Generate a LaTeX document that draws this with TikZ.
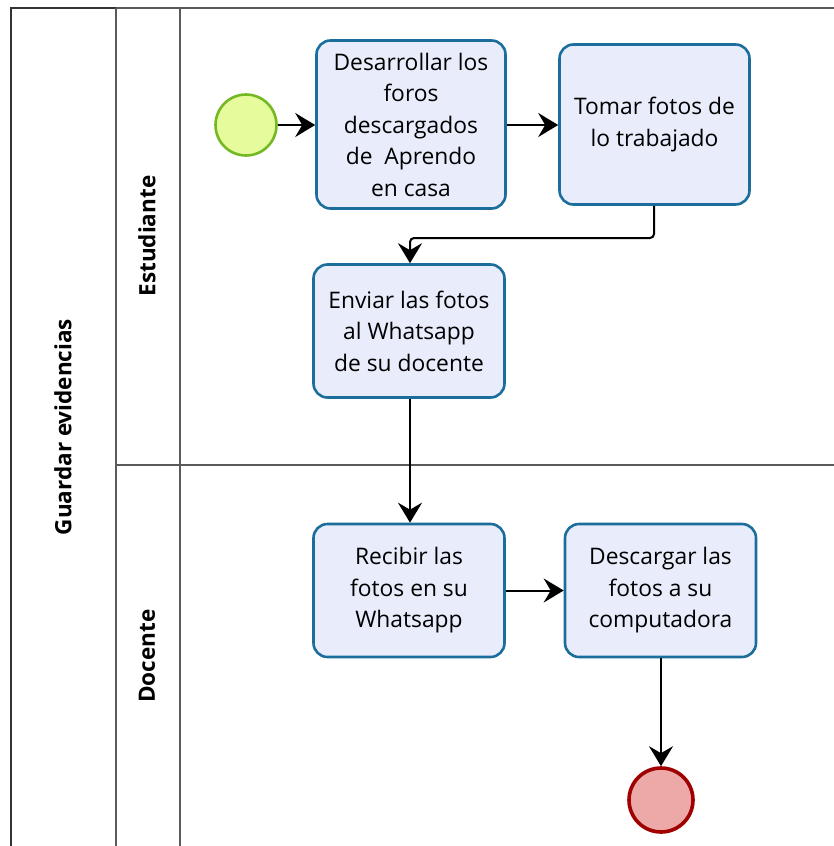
\documentclass[tikz,border=0pt]{standalone}
\usepackage{fontspec}
\setmainfont{Open Sans}
\usetikzlibrary{arrows.meta}
\definecolor{taskfill}{HTML}{E9EDFB}
\definecolor{taskdraw}{HTML}{1B6E9B}
\definecolor{startfill}{HTML}{E6FB9B}
\definecolor{startdraw}{HTML}{74B824}
\definecolor{endfill}{HTML}{EDA8A8}
\definecolor{enddraw}{HTML}{A00000}
\definecolor{poolline}{HTML}{5A5A5A}
\begin{document}
\begin{tikzpicture}[x=1pt,y=-1pt,
  task/.style={draw=taskdraw,fill=taskfill,line width=2.6pt,rounded corners=14pt,
    align=center,font=\fontsize{22.8}{31.5}\selectfont,inner sep=0pt},
  flow/.style={draw=black,line width=2pt,-{Stealth[length=20pt,width=24pt,inset=7pt]}},
  lanelbl/.style={rotate=90,font=\fontsize{22.5}{26}\selectfont\bfseries},
  pool/.style={draw=poolline,line width=1.6pt}]
\useasboundingbox (0,0) rectangle (834,846);
% pool and lanes
\draw[draw=black!80,line width=2.4pt] (11,846) -- (11,8) -- (116,8);
\draw[pool] (116,8) -- (834,8);
\draw[pool] (116,8) -- (116,846);
\draw[pool] (180,8) -- (180,846);
\draw[pool] (116,465) -- (834,465);
\node[lanelbl] (pl) at (63,427) {Guardar evidencias};
\node[lanelbl] (l1) at (147,236) {Estudiante};
\node[lanelbl] (l2) at (147,656) {Docente};
% events
\node[circle,draw=startdraw,fill=startfill,line width=2.6pt,minimum size=61pt,inner sep=0pt] (start) at (246,125) {};
\node[circle,draw=enddraw,fill=endfill,line width=3.6pt,minimum size=64pt,inner sep=0pt] (end) at (661,800) {};
% tasks
\node[task,minimum width=189pt,minimum height=168pt] (t1) at (411,124.5) {Desarrollar los\\foros\\descargados\\de\ \ Aprendo\\en casa};
\node[task,minimum width=190pt,minimum height=160pt] (t2) at (654.5,124.5) {Tomar fotos de\\lo trabajado};
\node[task,minimum width=191pt,minimum height=133pt] (t3) at (409,331) {Enviar las fotos\\al Whatsapp\\de su docente};
\node[task,minimum width=191pt,minimum height=133pt] (t4) at (409,590.5) {Recibir las\\fotos en su\\Whatsapp};
\node[task,minimum width=191pt,minimum height=133pt] (t5) at (660.5,590.5) {Descargar las\\fotos a su\\computadora};
% flows
\coordinate (c1) at (654,238);
\coordinate (c2) at (410,238);
\draw[flow] (start) -- (t1.west |- start);
\draw[flow] (t1.east |- start) -- (t2.west |- start);
\draw[flow,rounded corners=4pt] (t2.south -| c1) -- (c1) -- (c2) -- (c2 |- t3.north);
\draw[flow] (t3.south -| c2) -- (c2 |- t4.north);
\draw[flow] (t4.east) -- (t5.west);
\draw[flow] (t5.south -| end) -- (end.north);
\end{tikzpicture}
\end{document}
